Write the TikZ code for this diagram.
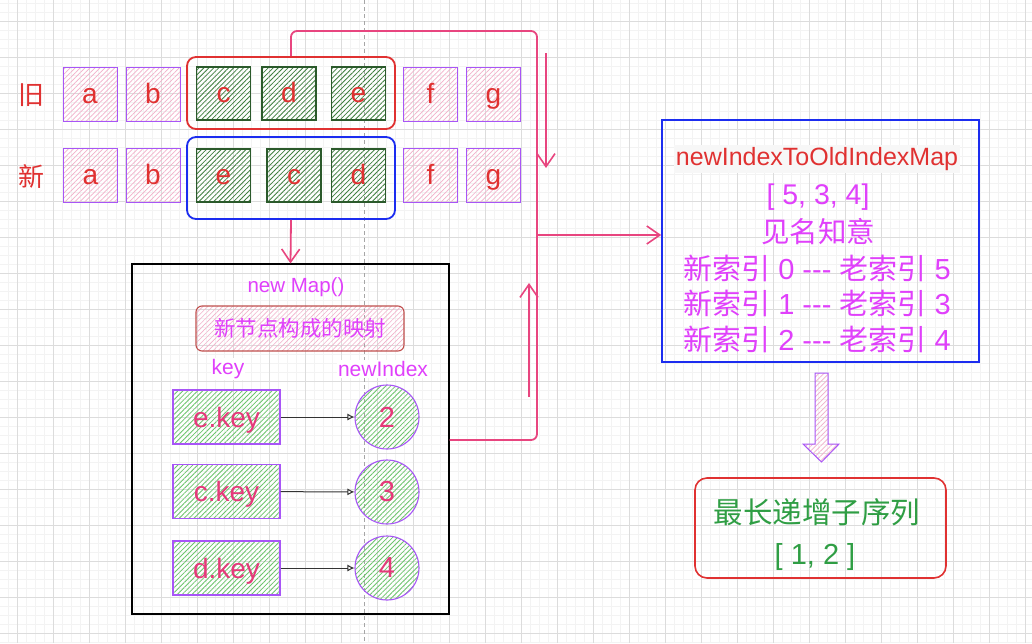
\documentclass[tikz,border=0pt]{standalone}
\usepackage{fontspec}
\setmainfont{Liberation Sans}
\newfontfamily\cjk{Noto Sans CJK SC}
\usetikzlibrary{patterns.meta,arrows.meta,calc}
\definecolor{gmajor}{HTML}{DCDCDC}
\definecolor{gminor}{HTML}{F3F3F3}
\definecolor{txtred}{HTML}{E03131}
\definecolor{txtmag}{HTML}{E040FB}
\definecolor{txtpink}{HTML}{E6397A}
\definecolor{lnpink}{HTML}{E8457F}
\definecolor{bpurple}{HTML}{A855F7}
\definecolor{hpink}{HTML}{F2B0CA}
\definecolor{hdgreen}{HTML}{3F7F3F}
\definecolor{bdgreen}{HTML}{2B5A2B}
\definecolor{hlgreen}{HTML}{6CC46C}
\definecolor{bblue}{HTML}{1C2DF0}
\definecolor{bbrown}{HTML}{C0504D}
\definecolor{txtgreen}{HTML}{2F9E44}
\newcommand{\fs}[1]{\fontsize{#1}{#1}\selectfont}
\tikzset{
  cellbase/.style={minimum width=54pt, minimum height=54pt, text=txtred, font=\fs{28},
    inner sep=0pt, text height=21pt, text depth=3pt},
  pinkcell/.style={cellbase, draw=bpurple, line width=1pt,
    pattern={Lines[angle=45,distance=3.5pt,line width=0.7pt]}, pattern color=hpink},
  greencell/.style={cellbase, draw=bdgreen, line width=1.2pt, minimum height=53pt,
    pattern={Lines[angle=45,distance=3.5pt,line width=0.8pt]}, pattern color=hdgreen},
  grpbox/.style={line width=1.8pt, rounded corners=9pt, minimum width=208pt, inner sep=0pt},
  keybox/.style={draw=bpurple, line width=1.1pt, minimum width=107pt, minimum height=54pt,
    pattern={Lines[angle=45,distance=3.5pt,line width=0.8pt]}, pattern color=hlgreen,
    text=txtpink, font=\fs{28}, inner sep=0pt, text height=20pt, text depth=0pt},
  idxcirc/.style={circle, draw=bpurple, line width=1.1pt, minimum size=64pt,
    pattern={Lines[angle=45,distance=3.5pt,line width=0.8pt]}, pattern color=hlgreen,
    text=txtpink, font=\fs{29}, inner sep=0pt},
  pinkline/.style={draw=lnpink, line width=1.8pt},
  barb/.style={-{Straight Barb[length=13pt,width=18pt,line width=1.6pt]}},
  keyarrow/.style={draw=black!80, line width=1pt, -{Latex[open,length=7pt,width=7pt]}},
  magtext/.style={text=txtmag, inner sep=1pt},
}
\begin{document}
\begin{tikzpicture}[x=1pt,y=-1pt]
\useasboundingbox (0,0) rectangle (1032,643);
\fill[white] (0,0) rectangle (1032,643);
% grid
\foreach \i in {0,...,114} {\draw[gminor, line width=0.5pt] ({8+9*\i},0) -- ({8+9*\i},643);}
\foreach \i in {0,...,71} {\draw[gminor, line width=0.5pt] (0,{3+9*\i}) -- (1032,{3+9*\i});}
\foreach \i in {0,...,28} {\draw[gmajor, line width=0.8pt] ({17+36*\i},0) -- ({17+36*\i},643);}
\foreach \i in {0,...,17} {\draw[gmajor, line width=0.8pt] (0,{21+36*\i}) -- (1032,{21+36*\i});}
% guide line
\draw[gray!70, line width=0.6pt, dash pattern=on 4pt off 3pt] (364,0) -- (364,643);

% labels
\node[text=txtred, font=\cjk\fs{26}] (lold) at (31,95) {旧};
\node[text=txtred, font=\cjk\fs{26}] (lnew) at (31,176) {新};

% group boxes
\node[grpbox, draw=txtred, minimum height=72pt] (oldgrp) at (291,93) {};
\node[grpbox, draw=bblue, minimum height=82pt] (newgrp) at (291,178) {};

% old row
\node[pinkcell] (oa) at (90,94) {a};
\node[pinkcell] (ob) at (153,94) {b};
\node[greencell] (oc) at (223.5,93.5) {c};
\node[greencell] (od) at (289,93.5) {d};
\node[greencell] (oe) at (358.5,93.5) {e};
\node[pinkcell] (of) at (430.5,94) {f};
\node[pinkcell] (og) at (493.5,94) {g};
% new row
\node[pinkcell] (na) at (90.5,175.5) {a};
\node[pinkcell] (nb) at (153,175.5) {b};
\node[greencell] (ne) at (223.5,175.5) {e};
\node[greencell] (nc) at (294,175.5) {c};
\node[greencell] (nd) at (358.5,175.5) {d};
\node[pinkcell] (nf) at (430.5,175.5) {f};
\node[pinkcell] (ng) at (493.5,175.5) {g};

% map box
\node[draw=black, line width=1.1pt, minimum width=317pt, minimum height=350pt, inner sep=0pt] (mapbox) at (290.5,439) {};
\node[magtext, font=\fs{20.5}] (mapt) at (296,287) {new Map()};
\node[draw=bbrown, line width=1.1pt, rounded corners=6pt, minimum width=208pt, minimum height=45pt,
  pattern={Lines[angle=45,distance=3.5pt,line width=0.6pt]}, pattern color=hpink,
  text=txtmag, font=\cjk\fs{21.5}, inner sep=0pt] (mapnote) at (300,328.5) {新节点构成的映射};
\node[magtext, fill=white, font=\fs{21}] (lkey) at (228,369) {key};
\node[magtext, fill=white, font=\fs{21}] (lidx) at (383,369) {newIndex};

\node[keybox] (ek) at (226.5,417) {e.key};
\node[keybox] (ck) at (226.5,491.5) {c.key};
\node[keybox] (dk) at (226.5,568) {d.key};
\node[idxcirc] (c2) at (387,417) {2};
\node[idxcirc] (c3) at (387,492) {3};
\node[idxcirc] (c4) at (387,568) {4};
\draw[keyarrow] (ek) -- (c2);
\draw[keyarrow] (ck) -- (c3);
\draw[keyarrow] (dk) -- (c4);

% right blue box
\node[draw=bblue, line width=1.6pt, minimum width=317pt, minimum height=242pt, inner sep=0pt] (idxbox) at (820.5,241) {};
\node[text=txtred, fill=black!3, font=\fs{25}, inner sep=2pt] (t1) at (817,159) {newIndexToOldIndexMap};
\node[magtext, font=\fs{28.5}] (t2) at (818,197) {[ 5, 3, 4]};
\node[magtext, font=\cjk\fs{28.5}] (t3) at (818,232) {见名知意};
\node[magtext, font=\fs{29}] (t4) at (817,268) {{\cjk 新索引} 0 -{}-{}- {\cjk 老索引} 5};
\node[magtext, font=\fs{29}] (t5) at (817,303) {{\cjk 新索引} 1 -{}-{}- {\cjk 老索引} 3};
\node[magtext, font=\fs{29}] (t6) at (817,339) {{\cjk 新索引} 2 -{}-{}- {\cjk 老索引} 4};

% bottom box
\node[draw=txtred, line width=1.6pt, rounded corners=12pt, minimum width=251pt, minimum height=100pt, inner sep=0pt] (lisbox) at (820.5,528) {};
\node[text=txtgreen, font=\cjk\fs{29.5}] (l1) at (817,512) {最长递增子序列};
\node[text=txtgreen, font=\fs{29}] (l2) at (815,557) {[ 1, 2 ]};

% hatched block arrow
\draw[draw=bpurple, line width=1pt, pattern={Lines[angle=45,distance=3.5pt,line width=0.7pt]}, pattern color=hpink]
  (815,373) -- (828,373) -- (828,444) -- (839,444) -- (821.5,462) -- (803,444) -- (815,444) -- cycle;

% connectors
\coordinate (tr) at (537,31);
\coordinate (jn) at (537,235);
\coordinate (bt) at (537,440);
\draw[pinkline, rounded corners=6pt] (oldgrp.north) |- (tr) -- (bt) -- (mapbox.east |- bt);
\draw[pinkline, barb] (jn) -- (idxbox.west |- jn);
\draw[pinkline, barb] (newgrp.south) -- (mapbox.north);
\coordinate (da1) at (546,53);
\coordinate (da2) at (546,168);
\draw[pinkline, barb] (da1) -- (da2);
\coordinate (ua1) at (529,397);
\coordinate (ua2) at (529,283);
\draw[pinkline, barb] (ua1) -- (ua2);
\end{tikzpicture}
\end{document}
